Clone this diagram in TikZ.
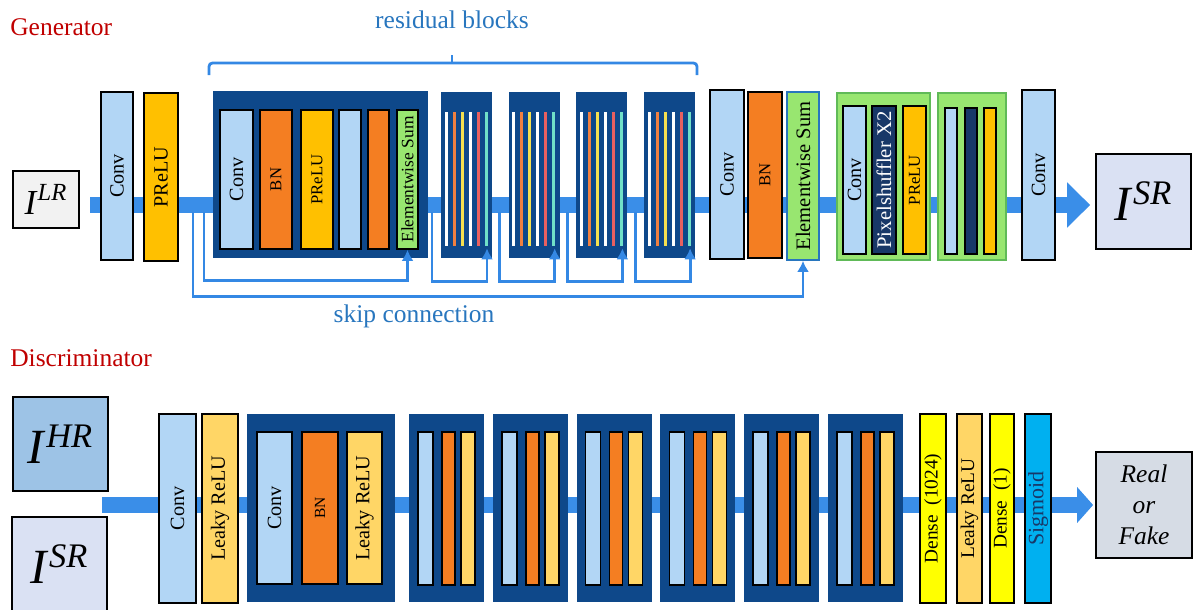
\documentclass[tikz,border=0pt]{standalone}
\usepackage{fontspec}
\setmainfont{Liberation Serif}
\usepackage{graphicx}
\usepackage{xcolor}
\usepackage{tikz}
\usetikzlibrary{arrows.meta,positioning,backgrounds,calc}
\newcommand{\vtext}[1]{\rotatebox{90}{#1}}
\definecolor{ganBar}{RGB}{58,142,232}
\definecolor{ganSkip}{RGB}{52,136,228}
\definecolor{ganLabel}{RGB}{40,118,190}
\definecolor{ganRed}{RGB}{192,0,0}
\definecolor{ganNavy}{RGB}{14,72,138}
\definecolor{ganConv}{RGB}{178,214,245}
\definecolor{ganBN}{RGB}{244,126,34}
\definecolor{ganPReLU}{RGB}{255,192,0}
\definecolor{ganSum}{RGB}{152,230,112}
\definecolor{ganSumLine}{RGB}{96,186,88}
\definecolor{ganShuffle}{RGB}{24,56,104}
\definecolor{ganLeaky}{RGB}{255,214,102}
\definecolor{ganDense}{RGB}{255,255,0}
\definecolor{ganSigmoid}{RGB}{0,176,240}
\definecolor{ganLRFill}{RGB}{242,242,242}
\definecolor{ganSRFill}{RGB}{218,225,243}
\definecolor{ganHRFill}{RGB}{157,195,230}
\definecolor{ganOutFill}{RGB}{214,220,229}
\definecolor{ganLineOrange}{RGB}{240,128,64}
\definecolor{ganLineYellow}{RGB}{245,224,80}
\definecolor{ganLineRed}{RGB}{232,96,96}
\definecolor{ganLineCyan}{RGB}{112,224,200}
\tikzset{
  layerbox/.style={rectangle, draw=black, line width=1pt, inner sep=0pt, align=center,
    font=\fontsize{11.5}{13}\selectfont},
  convbox/.style={layerbox, fill=ganConv},
  bnbox/.style={layerbox, fill=ganBN, font=\fontsize{9.5}{11}\selectfont},
  prelubox/.style={layerbox, fill=ganPReLU},
  sumbox/.style={layerbox, fill=ganSum},
  shufflebox/.style={layerbox, fill=ganShuffle, text=white},
  leakybox/.style={layerbox, fill=ganLeaky},
  densebox/.style={layerbox, fill=ganDense, font=\fontsize{11}{13}\selectfont},
  sigmoidbox/.style={layerbox, fill=ganSigmoid, text=ganShuffle, font=\fontsize{12.5}{14}\selectfont},
  resbox/.style={rectangle, fill=ganNavy, draw=none, inner sep=0pt},
  upbox/.style={rectangle, fill=ganSum, draw=ganSumLine, line width=1pt, inner sep=0pt},
  imgbox/.style={rectangle, draw=black, line width=1pt, inner sep=0pt, align=center,
    font=\fontsize{28}{30}\selectfont},
  titlelabel/.style={font=\fontsize{14.5}{17}\selectfont, text=ganRed, inner sep=0pt},
  bluelabel/.style={font=\fontsize{14.5}{17}\selectfont, text=ganLabel, inner sep=0pt},
  flowbar/.style={draw=ganBar, line width=0.32cm},
  skipline/.style={draw=ganSkip, line width=1.6pt, -{Latex[length=2.2mm,width=2.4mm]}},
  bracket/.style={draw=ganSkip, line width=1.6pt, rounded corners=2pt},
}
\begin{document}
\begin{tikzpicture}[x=0.02cm, y=-0.02cm]
  \useasboundingbox (0,0) rectangle (1194,609);

  \node[titlelabel, anchor=west] (gentitle) at (10,27) {Generator};
  \node[bluelabel] (reslabel) at (452,20) {residual blocks};
  \draw[bracket] (209,75) -- (209,63) -- (697,63) -- (697,75);
  \draw[bracket] (452,63) -- (452,55);

  \node[imgbox, fill=ganLRFill, minimum width=1.32cm, minimum height=1.14cm,
    font=\fontsize{20}{24}\selectfont] (lr) at (46,199.5) {\textit{I}\textsuperscript{\textit{LR}}};
  \node[convbox, minimum width=0.64cm, minimum height=3.36cm] (gconv1) at (117,176) {\vtext{Conv}};
  \node[prelubox, minimum width=0.68cm, minimum height=3.36cm] (gprelu1) at (161,177) {\vtext{PReLU}};

  \node[resbox, minimum width=4.3cm, minimum height=3.34cm] (res1) at (320.5,174.5) {};
  \node[convbox, minimum width=0.66cm, minimum height=2.78cm] (r1conv) at (236.5,179.5) {\vtext{Conv}};
  \node[bnbox, minimum width=0.64cm, minimum height=2.78cm] (r1bn) at (276,179.5) {\vtext{BN}};
  \node[prelubox, minimum width=0.64cm, minimum height=2.78cm,
    font=\fontsize{9.5}{11}\selectfont] (r1prelu) at (317,179.5) {\vtext{PReLU}};
  \node[convbox, minimum width=0.44cm, minimum height=2.78cm] (r1conv2) at (350,179.5) {};
  \node[bnbox, minimum width=0.42cm, minimum height=2.78cm] (r1bn2) at (378.5,179.5) {};
  \node[sumbox, minimum width=0.42cm, minimum height=2.78cm,
    font=\fontsize{9.9}{11}\selectfont] (r1sum) at (407.5,179.5) {\vtext{Elementwise Sum}};

  \foreach \i in {2,...,5} {
    \node[resbox, minimum width=1.02cm, minimum height=3.32cm] (res\i) at (466.5+67.7*\i-135.4,175) {};
    \foreach \c [count=\j from 0] in {white,ganLineOrange,ganLineYellow,white,ganLineRed,ganLineCyan}
      \draw[\c, line width=0.06cm] (446+67.7*\i-135.4+8*\j,112) -- ++(0,134);
  }

  \node[convbox, minimum width=0.68cm, minimum height=3.38cm] (gconv2) at (727,174.5) {\vtext{Conv}};
  \node[bnbox, minimum width=0.68cm, minimum height=3.32cm] (gbn) at (765,175) {\vtext{BN}};
  \node[sumbox, draw=ganLabel, minimum width=0.64cm, minimum height=3.36cm,
    font=\fontsize{11.7}{13}\selectfont] (gsum) at (803,176) {\vtext{Elementwise Sum}};

  \node[upbox, minimum width=1.86cm, minimum height=3.34cm] (up1) at (883.5,176.5) {};
  \node[convbox, minimum width=0.46cm, minimum height=2.96cm] (up1conv) at (854.5,180) {\vtext{Conv}};
  \node[shufflebox, minimum width=0.48cm, minimum height=2.96cm,
    font=\fontsize{11.8}{13}\selectfont] (up1ps) at (884,180) {\vtext{Pixelshuffler X2}};
  \node[prelubox, minimum width=0.46cm, minimum height=2.96cm,
    font=\fontsize{9.5}{11}\selectfont] (up1prelu) at (914.5,180) {\vtext{PReLU}};
  \node[upbox, minimum width=1.36cm, minimum height=3.34cm] (up2) at (972,176.5) {};
  \node[convbox, minimum width=0.24cm, minimum height=2.92cm] (up2conv) at (951,181) {};
  \node[shufflebox, minimum width=0.24cm, minimum height=2.92cm] (up2ps) at (971,181) {};
  \node[prelubox, minimum width=0.24cm, minimum height=2.92cm] (up2prelu) at (990,181) {};

  \node[convbox, minimum width=0.66cm, minimum height=3.4cm] (gconv3) at (1038.5,175) {\vtext{Conv}};
  \node[imgbox, fill=ganSRFill, minimum width=1.9cm, minimum height=1.9cm] (srg) at (1143.5,201.5)
    {\textit{I}\textsuperscript{\textit{SR}}};

  \coordinate (gin) at (90,205);
  \begin{scope}[on background layer]
    \draw[flowbar, -{Triangle[length=0.46cm,width=0.88cm]}, shorten >=0.1cm] (gin) -- (gin -| srg.west);
  \end{scope}

  \coordinate (sk0) at (193,212);
  \coordinate (sk1) at (204,212);
  \draw[skipline] (sk1) |- ($(r1sum.south)+(0,31)$) -- (r1sum.south);
  \foreach \i in {2,...,5} {
    \coordinate (sk\i) at (432+67.7*\i-135.4,212);
    \draw[skipline] (sk\i) |- ($(res\i.south)+(20.5,23)$) -- ($(res\i.south)+(20.5,-10)$);
  }
  \draw[skipline] (sk0) |- ($(gsum.south)+(0,36)$) -- (gsum.south);
  \node[bluelabel] (skiplabel) at (414,316) {skip connection};

  \node[titlelabel, anchor=west] (disctitle) at (10,358) {Discriminator};

  \node[imgbox, fill=ganHRFill, minimum width=1.9cm, minimum height=1.88cm] (hr) at (60.5,444)
    {\textit{I}\textsuperscript{\textit{HR}}};
  \node[imgbox, fill=ganSRFill, minimum width=1.9cm, minimum height=1.9cm] (dsr) at (59.5,564.5)
    {\textit{I}\textsuperscript{\textit{SR}}};

  \node[convbox, minimum width=0.74cm, minimum height=3.78cm] (dconv) at (177.5,508.5) {\vtext{Conv}};
  \node[leakybox, minimum width=0.72cm, minimum height=3.78cm] (dleaky) at (220,508.5) {\vtext{Leaky ReLU}};

  \node[resbox, minimum width=2.96cm, minimum height=3.76cm] (db1) at (321,508) {};
  \node[convbox, minimum width=0.7cm, minimum height=3.04cm] (db1conv) at (274.5,508) {\vtext{Conv}};
  \node[bnbox, minimum width=0.72cm, minimum height=3.04cm,
    font=\fontsize{8.8}{10}\selectfont] (db1bn) at (320,508) {\vtext{BN}};
  \node[leakybox, minimum width=0.7cm, minimum height=3.04cm] (db1leaky) at (364.5,508) {\vtext{Leaky ReLU}};

  \foreach \k in {2,...,7} {
    \node[resbox, minimum width=1.5cm, minimum height=3.76cm] (db\k) at (446.5+83.8*\k-167.6,508) {};
    \node[convbox, minimum width=0.3cm, minimum height=3.06cm] (db\k conv) at ($(db\k.center)+(-21,0.5)$) {};
    \node[bnbox, minimum width=0.26cm, minimum height=3.06cm] (db\k bn) at ($(db\k.center)+(2,0.5)$) {};
    \node[leakybox, minimum width=0.28cm, minimum height=3.06cm] (db\k leaky) at ($(db\k.center)+(21.5,0.5)$) {};
  }

  \node[densebox, minimum width=0.52cm, minimum height=3.78cm] (dense1) at (933,508.5) {\vtext{Dense~~(1024)}};
  \node[leakybox, fill=ganLeaky, minimum width=0.5cm, minimum height=3.78cm,
    font=\fontsize{11}{13}\selectfont] (dleaky2) at (969.5,508.5) {\vtext{Leaky ReLU}};
  \node[densebox, minimum width=0.48cm, minimum height=3.78cm] (dense2) at (1002,508.5) {\vtext{Dense~~(1)}};
  \node[sigmoidbox, minimum width=0.52cm, minimum height=3.78cm] (sigm) at (1038,508.5) {\vtext{Sigmoid}};

  \node[imgbox, fill=ganOutFill, minimum width=1.92cm, minimum height=2.12cm,
    font=\fontsize{14.5}{17.6}\selectfont\itshape] (rf) at (1144,505) {Real\\or\\Fake};

  \coordinate (din) at (102,505);
  \begin{scope}[on background layer]
    \draw[flowbar, -{Triangle[length=0.32cm,width=0.7cm]}, shorten >=0.04cm] (din) -- (din -| rf.west);
  \end{scope}
\end{tikzpicture}
\end{document}
